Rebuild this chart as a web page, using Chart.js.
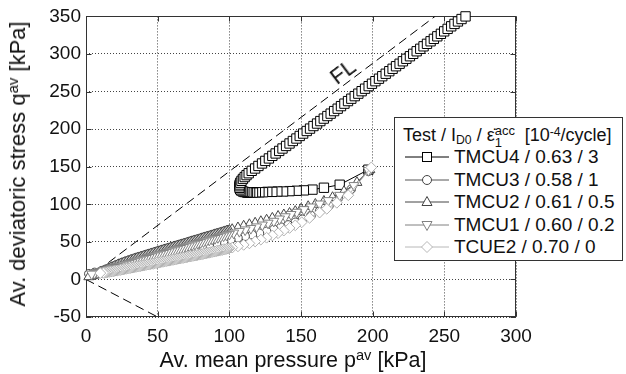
<!DOCTYPE html>
<html><head><meta charset="utf-8">
<script src="https://cdn.jsdelivr.net/npm/chart.js@4.4.0/dist/chart.umd.min.js"></script>
<style>
html,body{margin:0;padding:0;background:#fff;}
#wrap{position:relative;width:626px;height:374px;font-family:"Liberation Sans",Arial,Helvetica,sans-serif;color:#111;overflow:hidden;}
#c{position:absolute;left:0;top:0;}
.lbl{position:absolute;white-space:nowrap;font-size:22px;line-height:22px;}
.sup{font-size:0.68em;position:relative;top:-0.45em;}
.sub{font-size:0.68em;position:relative;top:0.25em;}
#legend{position:absolute;left:394px;top:117px;width:229px;height:144px;border:1px solid #333;background:#fff;box-sizing:border-box;}
.row{position:absolute;left:0;height:22px;width:100%;}
.row svg{position:absolute;left:10px;top:1px;}
.row .txt{position:absolute;left:59px;top:1px;font-size:19px;line-height:19px;white-space:nowrap;}
.stk{display:inline-block;position:relative;width:25px;height:10px;}
.stk .a{position:absolute;left:0;top:-10px;font-size:13px;}
.stk .b{position:absolute;left:0;top:2px;font-size:13px;}
</style></head>
<body><div id="wrap">
<canvas id="c" width="626" height="374"></canvas>
<div class="lbl" style="left:19px;top:164px;transform:translate(-50%,-50%) rotate(-90deg);">Av. deviatoric stress q<span class="sup">av</span> [kPa]</div>
<div class="lbl" style="left:293px;top:361px;font-size:21.5px;transform:translate(-50%,-50%);">Av. mean pressure p<span class="sup">av</span> [kPa]</div>
<div class="lbl" style="left:343px;top:72px;transform:translate(-50%,-50%) rotate(-37deg);">FL</div>
<div id="legend">
 <div class="row" style="top:7px;"><span class="txt" style="left:8px;font-size:18px;">Test / I<span class="sub">D0</span> / ε̇<span class="stk"><span class="a">acc</span><span class="b">1</span></span> [10<span class="sup">-4</span>/cycle]</span></div>
 <div class="row" style="top:28px;"><svg width="44" height="20"><line x1="0" y1="10" x2="44" y2="10" stroke="#000" stroke-width="1"/><rect x="17.5" y="5.5" width="9" height="9" fill="#fff" stroke="#000"/></svg><span class="txt">TMCU4 / 0.63 / 3</span></div>
 <div class="row" style="top:51px;"><svg width="44" height="20"><line x1="0" y1="10" x2="44" y2="10" stroke="#555" stroke-width="1"/><circle cx="22" cy="10" r="4.5" fill="#fff" stroke="#444"/></svg><span class="txt">TMCU3 / 0.58 / 1</span></div>
 <div class="row" style="top:73px;"><svg width="44" height="20"><line x1="0" y1="10" x2="44" y2="10" stroke="#444" stroke-width="1"/><polygon points="22,4.5 27,13.5 17,13.5" fill="#fff" stroke="#444"/></svg><span class="txt">TMCU2 / 0.61 / 0.5</span></div>
 <div class="row" style="top:96px;"><svg width="44" height="20"><line x1="0" y1="10" x2="44" y2="10" stroke="#808080" stroke-width="1"/><polygon points="22,15.5 27,6.5 17,6.5" fill="#fff" stroke="#808080"/></svg><span class="txt">TMCU1 / 0.60 / 0.2</span></div>
 <div class="row" style="top:118px;"><svg width="44" height="20"><line x1="0" y1="10" x2="44" y2="10" stroke="#b8b8b8" stroke-width="1"/><polygon points="22,4.5 27.5,10 22,15.5 16.5,10" fill="#fff" stroke="#b8b8b8"/></svg><span class="txt">TCUE2 / 0.70 / 0</span></div>
</div>
</div>
<script>
// ---- data ----
const xTickVals = [0, 50, 100, 150, 200, 250, 300];
const yTickVals = [-50, 0, 50, 100, 150, 200, 250, 300, 350];

// failure line FL and extension line
const flP = [0, 243.5], flQ = [0, 350];
const extP = [0, 50], extQ = [0, -50];

// TMCU4 (squares)
const tmcu4P = [197,177,166,158,152,147,142,137.5,133.5,130,126.5,123.5,121,118.5,116.5,114.5,113,112,110.5,109.3,108.3,107.6,107.1,107,107.2,107.7,108.5,109.5,110.7,112,113.5,
 115.6,118,120.3,122.8,125.1,127.6,130,132.3,134.8,137.1,139.6,142,144.3,146.8,149.1,151.5,154,156.3,158.7,161.2,163.5,165.9,168.4,170.7,173.1,175.6,177.9,180.3,182.8,185.1,187.5,190,192.3,194.7,197.2,199.5,201.9,204.4,206.7,209.1,211.6,213.9,216.3,218.8,221.1,223.5,226,228.3,230.7,233.2,235.5,237.9,240.4,242.7,245.1,247.6,249.9,252.3,254.8,257.1,259.5,262,264.8];
const tmcu4Q = [146,126,122,119.5,118.5,118,117.5,117,117,116.5,116.5,116,116,116,115.5,115.5,115.5,115.8,116.3,117.1,118.3,119.8,121.8,124,126.3,128.7,131.2,133.7,136.2,138.8,141.3,
 144.5,147.6,151,154.3,157.7,161,164.4,167.6,171,174.2,177.6,180.9,184.2,187.5,190.9,194.1,197.5,200.7,204.1,207.4,210.7,214,217.4,220.6,224,227.2,230.6,233.9,237.3,240.5,243.9,247.2,250.5,253.8,257.2,260.4,263.8,267.1,270.4,273.7,277.1,280.3,283.7,287,290.3,293.6,297,300.2,303.6,306.9,310.2,313.5,316.9,320.1,323.5,326.8,330.1,333.4,336.8,340,343.3,346.5,350];

// TMCU3 (circles)
const tmcu3P = [197,185,176,169.5,163,157,151,146,141,136,131,126,121,116,111,106,101,96,91,86,81,76,71,66,61,56,51,46,41,36,31,26,21,16,11,6,2];
const tmcu3Q = [144,120,108,98,91,85,80,76,72.5,69.5,66.5,64,61.5,59.5,57.5,55.3,53,50.7,48.4,46.1,43.8,41.5,39.2,36.9,34.6,32.3,30,27.7,25.4,23.1,20.8,18.5,16.2,13.9,11.6,9.3,7.5];

// TMCU2 (triangles)
const tmcu2P = [198,189,180,172,166,160,155,150,146,142,138,134,130,126,122,118,114,110,106,102,
 100,99,98,97,96,95,94,93,92,91,90,89,88,87,86,85,84,83,82,81,80,79,78,77,76,75,74,73,72,71,70,69,68,67,66,65,64,63,62,61,60,59,58,57,56,55,54,53,52,51,
 50,49,48,47,46,45,44,43,42,41,40,39,38,37,36,35,34,33,32,31,30,29,28,27,26,25,24,23,22,21,20,19,18,17,16,15,14,13,12,11,10,9,8,7,6,5,4,3,2];
const tmcu2Q = [146,129,117,109,104,100,97,93.5,90.5,88,86,84,81.5,79,77,75,73,71,68.7,66.4,
 65.3,64.7,64.2,63.5,62.9,62.3,61.7,61.2,60.6,60.1,59.6,58.9,58.3,57.7,57.1,56.6,56.1,55.5,55,54.4,53.8,53.1,52.5,52,51.5,50.9,50.4,49.8,49.2,48.6,48,47.4,46.8,46.3,45.7,45.2,44.6,44,43.5,42.9,42.3,41.7,41.1,40.6,40,39.5,38.9,38.3,37.7,37.1,
 36.5,36,35.4,34.8,34.2,33.6,33,32.5,31.9,31.3,30.7,30.1,29.5,28.9,28.4,27.8,27.2,26.5,25.9,25.3,24.6,23.9,23.3,22.6,21.9,21.2,20.5,19.8,19,18.2,17.4,16.6,15.8,15,14.2,13.3,12.5,11.7,10.9,10,9.2,8.4,7.6,6.8,6,5.4,4.7,4.1,3.5];

// TMCU1 (inverted triangles)
const tmcu1P = [197,187,177,169,163,157,152,147,143,139,135,131,127,123,119,115,111,107,103,
 100,98,96,94,92,90,88,86,84,82,80,78,76,74,72,70,68,66,64,62,60,58,56,54,52,50,48,46,44,42,40,38,36,34,32,30,28,26,24,22,20,18,16,14,12,10,8,6,4];
const tmcu1Q = [145,125,112,105,100.5,96.5,93,89.5,86.5,83.5,80.5,77.5,75,72.5,70,68,66,64,61.8,
 60.2,59.1,58,56.9,55.8,54.6,53.6,52.4,51.3,50.2,49.1,48,46.9,45.8,44.6,43.6,42.5,41.3,40.2,39.1,38,36.9,35.8,34.7,33.6,32.5,31.4,30.3,29.2,28,27,25.9,24.8,23.7,22.5,21.5,20.4,19.3,18.1,17.1,16,14.9,13.8,12.6,11.6,10.5,9.4,8.3,7.2];

// TCUE2 (diamonds)
const tcue2P = [199,183,175,168,163,156,150.5,146,142,138,134,130,126,122,118,114,110,106,102,
 100,99,98,97,96,95,94,93,92,91,90,89,88,87,86,85,84,83,82,81,80,79,78,77,76,75,74,73,72,71,70,69,68,67,66,65,64,63,62,61,60,59,58,57,56,55,54,53,52,51,
 50,49,48,47,46,45,44,43,42,41,40,39,38,37,36,35,34,33,32,31,30,29,28,27,26,25,24,23,22,21,20,19,18,17,16,15,14,13,12,10];
const tcue2Q = [149,112,102,94,89,82,76,72,68.5,65,61.5,58.5,55.5,53,50.5,48,46,44,42.3,
 41.5,41.1,40.6,40.2,39.7,39.3,38.9,38.5,38.1,37.7,37.3,36.9,36.5,36.1,35.7,35.3,34.9,34.5,34.1,33.7,33.3,32.9,32.5,32.2,31.8,31.4,31,30.7,30.3,29.9,29.6,29.2,28.8,28.5,28.1,27.7,27.4,27,26.6,26.3,25.9,25.5,25.2,24.8,24.4,24.1,23.7,23.3,23,22.6,
 22.2,21.9,21.5,21.1,20.8,20.4,20,19.7,19.3,18.9,18.6,18.2,17.8,17.5,17.1,16.7,16.4,16,15.6,15.3,14.9,14.5,14.2,13.8,13.4,13.1,12.7,12.4,12,11.7,11.3,11,10.6,10.3,9.9,9.6,9.3,9,8.7,8.4];

// ---- chart ----
const pts = (P, Q) => P.map((p, i) => ({x: p, y: Q[i]}));
const FONT = {family: '"Liberation Sans", Arial, Helvetica, sans-serif', size: 19};

function series(label, P, Q, color, edge, style, r, rot, order) {
  return {label, data: pts(P, Q), showLine: true, borderColor: color, borderWidth: 1,
    pointStyle: style, pointRadius: r, pointRotation: rot, pointBorderColor: edge,
    pointBackgroundColor: '#fff', pointBorderWidth: 1, tension: 0, clip: 12, order};
}
function refLine(P, Q) {
  return {data: pts(P, Q), showLine: true, borderColor: '#000', borderWidth: 1,
    borderDash: [9, 5], pointRadius: 0, tension: 0, clip: 0, order: 10};
}

const frame = {
  id: 'frame',
  beforeDatasetsDraw(c) {
    const {ctx, chartArea: a, scales: {x, y}} = c;
    const L = Math.round(a.left) + 0.5, R = Math.round(a.right) - 0.5;
    const T = Math.round(a.top) + 0.5, B = Math.round(a.bottom) - 0.5;
    ctx.save();
    ctx.strokeStyle = '#333'; ctx.lineWidth = 1; ctx.setLineDash([]);
    ctx.strokeRect(L, T, R - L, B - T);
    ctx.beginPath();
    xTickVals.forEach(v => { const px = Math.round(x.getPixelForValue(v)) + 0.5;
      ctx.moveTo(px, B); ctx.lineTo(px, B - 5); ctx.moveTo(px, T); ctx.lineTo(px, T + 5); });
    yTickVals.forEach(v => { const py = Math.round(y.getPixelForValue(v)) + 0.5;
      ctx.moveTo(L, py); ctx.lineTo(L + 5, py); ctx.moveTo(R, py); ctx.lineTo(R - 5, py); });
    ctx.stroke();
    ctx.restore();
  }
};

new Chart(document.getElementById('c'), {
  type: 'scatter',
  data: {datasets: [
    refLine(flP, flQ),
    refLine(extP, extQ),
    series('TMCU4 / 0.63 / 3', tmcu4P, tmcu4Q, '#000', '#000', 'rect', 6.6, 0, 6),
    series('TMCU3 / 0.58 / 1', tmcu3P, tmcu3Q, '#555', '#444', 'circle', 4.3, 0, 5),
    series('TMCU2 / 0.61 / 0.5', tmcu2P, tmcu2Q, '#444', '#444', 'triangle', 5.8, 0, 4),
    series('TMCU1 / 0.60 / 0.2', tmcu1P, tmcu1Q, '#808080', '#808080', 'triangle', 5.8, 180, 3),
    series('TCUE2 / 0.70 / 0', tcue2P, tcue2Q, '#b8b8b8', '#b0b0b0', 'rectRot', 5.4, 0, 2)
  ]},
  options: {
    responsive: false, animation: false, devicePixelRatio: 1,
    layout: {padding: {top: 15, right: 110, left: 0, bottom: 0}},
    plugins: {legend: {display: false}, tooltip: {enabled: false}},
    scales: {
      x: {type: 'linear', min: 0, max: 300,
        afterBuildTicks: s => { s.ticks = xTickVals.map(v => ({value: v})); },
        afterFit: s => { s.height = 57; },
        ticks: {font: FONT, color: '#111', padding: 8, maxRotation: 0, autoSkip: false},
        grid: {color: '#444', lineWidth: 1, drawTicks: false},
        border: {display: false, dash: [1, 2]}},
      y: {type: 'linear', min: -50, max: 350,
        afterBuildTicks: s => { s.ticks = yTickVals.map(v => ({value: v})); },
        afterFit: s => { s.width = 86; },
        ticks: {font: FONT, color: '#111', padding: 5, autoSkip: false},
        grid: {color: '#444', lineWidth: 1, drawTicks: false},
        border: {display: false, dash: [1, 2]}}
    }
  },
  plugins: [frame]
});
</script>
</body></html>
